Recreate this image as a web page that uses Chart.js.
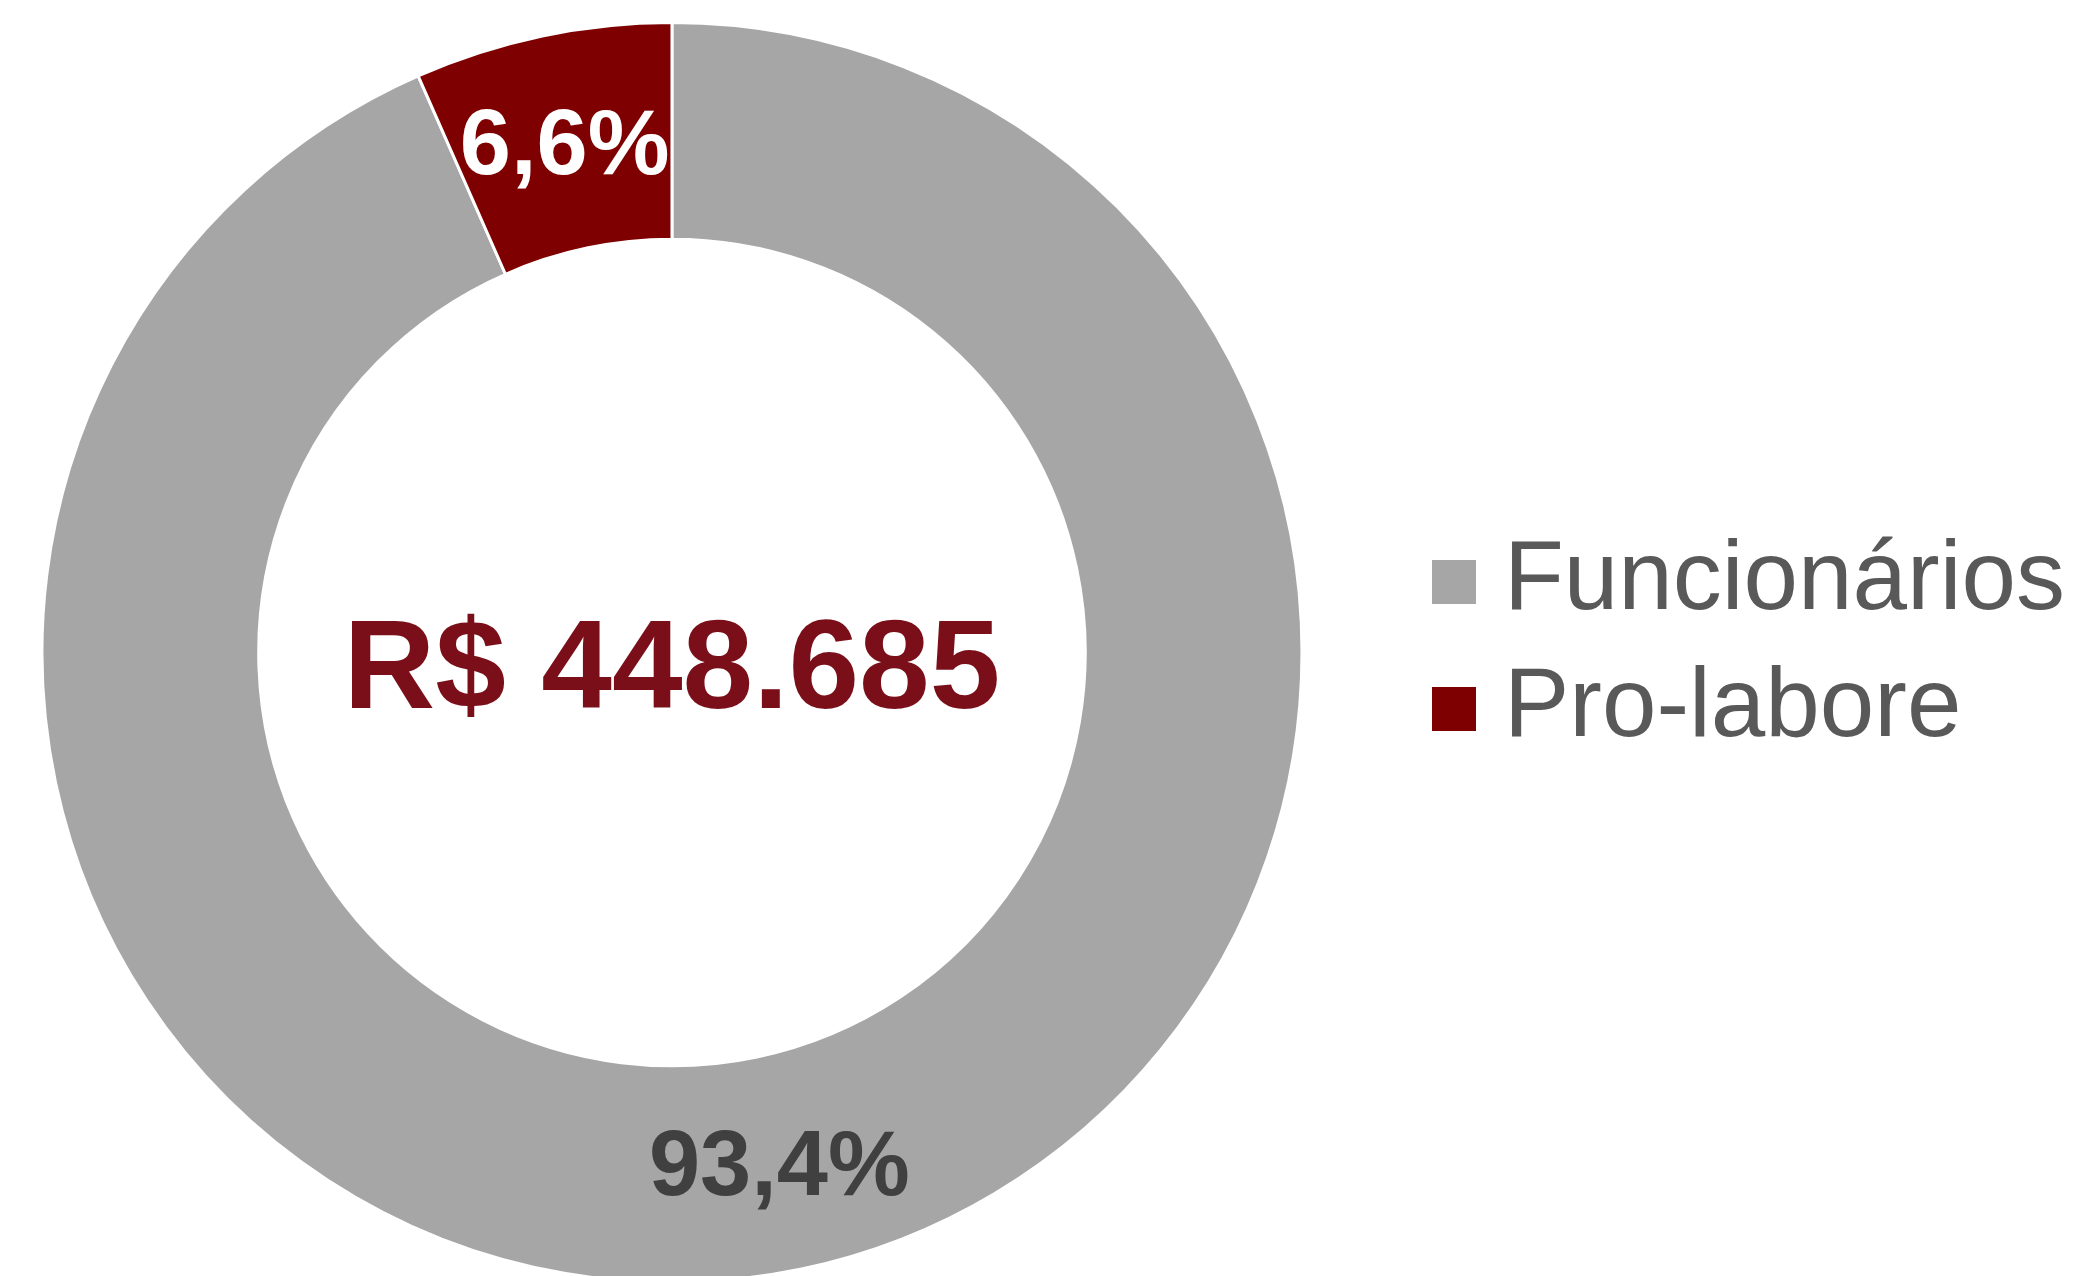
<!DOCTYPE html>
<html>
<head>
<meta charset="utf-8">
<script src="https://cdn.jsdelivr.net/npm/chart.js@4"></script>
<style>
  html, body { margin: 0; padding: 0; background: #ffffff; overflow: hidden; }
  #wrap { position: absolute; left: -80px; top: 0; width: 2155px; height: 1284px; }
</style>
</head>
<body>
<div id="wrap"><canvas id="c"></canvas></div>
<script>
// ---- data ----
const categories = ['Funcionários', 'Pro-labore'];
const shareValues = [93.4, 6.6];
const totalValue = 448685;
const currencyPrefix = 'R$ ';

// ---- styles ----
const sliceColors = ['#A6A6A6', '#7F0000'];
const labelColors = ['#404040', '#FFFFFF'];
const FONT = '"Liberation Sans", Arial, sans-serif';
const LEGEND_SQ = 44;

function fmtPct(v) { return v.toFixed(1).replace('.', ',') + '%'; }
function fmtThousands(n) { return String(n).replace(/\B(?=(\d{3})+(?!\d))/g, '.'); }

function squareImage(color) {
  const cv = document.createElement('canvas');
  cv.width = LEGEND_SQ; cv.height = LEGEND_SQ;
  const g = cv.getContext('2d');
  g.fillStyle = color;
  g.fillRect(0, 0, LEGEND_SQ, LEGEND_SQ);
  return cv;
}
const legendSquares = sliceColors.map(squareImage);

const sliceLabels = {
  id: 'sliceLabels',
  afterDatasetsDraw(chart) {
    const ctx = chart.ctx;
    const meta = chart.getDatasetMeta(0);
    const data = chart.data.datasets[0].data;
    ctx.save();
    ctx.textAlign = 'center';
    ctx.textBaseline = 'middle';
    ctx.font = 'bold 92px ' + FONT;
    meta.data.forEach((arc, i) => {
      const p = arc.getProps(['x', 'y', 'startAngle', 'endAngle', 'innerRadius', 'outerRadius'], true);
      const mid = (p.startAngle + p.endAngle) / 2;
      const r = (p.innerRadius + p.outerRadius) / 2;
      ctx.fillStyle = labelColors[i];
      ctx.fillText(fmtPct(data[i]), p.x + Math.cos(mid) * r, p.y + Math.sin(mid) * r + 7);
    });
    // centre total
    const a0 = meta.data[0];
    ctx.fillStyle = '#7A0F19';
    ctx.font = 'bold 127px ' + FONT;
    ctx.fillText(currencyPrefix + fmtThousands(totalValue), a0.x, a0.y + 20);
    ctx.restore();
  }
};

new Chart(document.getElementById('c'), {
  type: 'doughnut',
  data: {
    labels: categories,
    datasets: [{
      data: shareValues,
      backgroundColor: sliceColors,
      borderColor: '#FFFFFF',
      borderWidth: 3,
      hoverOffset: 0
    }]
  },
  options: {
    responsive: true,
    maintainAspectRatio: false,
    animation: false,
    cutout: '65.6%',
    layout: { padding: { top: 6, bottom: 0, left: 0, right: 0 } },
    plugins: {
      tooltip: { enabled: false },
      title: {
        display: true,
        text: ' ',
        position: 'top',
        fullSize: false,
        padding: 0,
        font: { size: 12.5, lineHeight: 1.2 }
      },
      legend: {
        position: 'right',
        align: 'center',
        labels: {
          usePointStyle: true,
          boxWidth: 2,
          boxHeight: LEGEND_SQ,
          padding: 29,
          color: '#595959',
          font: { family: FONT, size: 98 },
          generateLabels(chart) {
            const base = Chart.overrides.doughnut.plugins.legend.labels.generateLabels(chart);
            return base.map((l, i) => Object.assign({}, l, {
              lineWidth: 0,
              strokeStyle: 'rgba(0,0,0,0)',
              pointStyle: legendSquares[i]
            }));
          }
        }
      }
    }
  },
  plugins: [sliceLabels]
});
</script>
</body>
</html>
